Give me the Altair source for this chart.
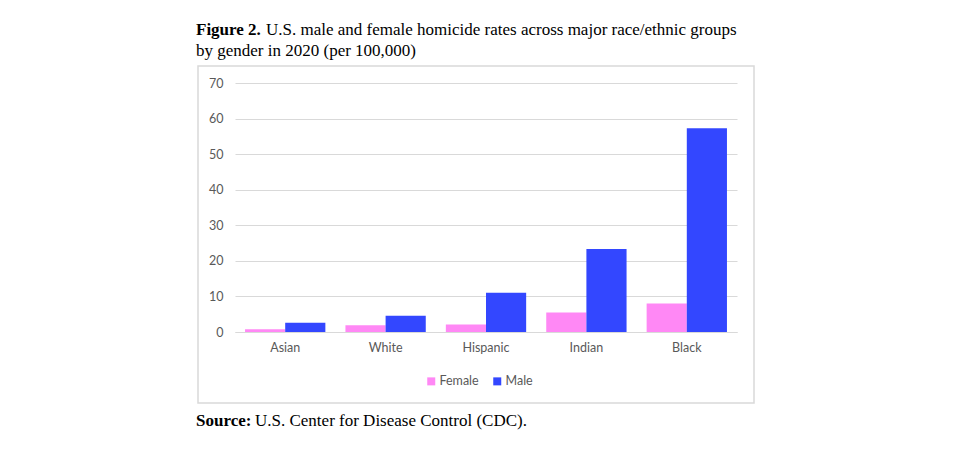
import altair as alt
import pandas as pd

groups = ["Asian", "White", "Hispanic", "Indian", "Black"]
female = [0.8, 1.9, 2.1, 5.5, 8.0]
male = [2.6, 4.6, 11.0, 23.3, 57.3]
genders = ["Female", "Male"]
colors = ["#ff88f5", "#3347ff"]
y_ticks = [0, 10, 20, 30, 40, 50, 60, 70]

rows = []
for g, f, m in zip(groups, female, male):
    rows.append({"group": g, "gender": "Female", "rate": f})
    rows.append({"group": g, "gender": "Male", "rate": m})
df = pd.DataFrame(rows)

W, H = 502, 249
LBL = "#595959"
FONT = "Lato"
SERIF = "Liberation Serif"

bars = alt.Chart(df).mark_bar().encode(
    x=alt.X("group:N", sort=groups, title=None,
            scale=alt.Scale(paddingInner=0.2, paddingOuter=0.1),
            axis=alt.Axis(labelAngle=0, ticks=False, domain=True, domainColor="#d9d9d9",
                          domainWidth=1, labelPadding=9, labelFontSize=12.5,
                          labelColor=LBL, labelFont=FONT, grid=False)),
    xOffset=alt.XOffset("gender:N", sort=genders, scale=alt.Scale(paddingInner=0, paddingOuter=0)),
    y=alt.Y("rate:Q", title=None,
            scale=alt.Scale(domain=[0, 70], nice=False),
            axis=alt.Axis(values=y_ticks, ticks=False, domain=False, labelPadding=12,
                          labelFontSize=12.5, labelColor=LBL, labelFont=FONT,
                          gridColor="#d9d9d9", gridWidth=1)),
    color=alt.Color("gender:N", sort=genders,
                    scale=alt.Scale(domain=genders, range=colors),
                    legend=alt.Legend(title=None, orient="none", legendX=190, legendY=292,
                                      direction="horizontal", symbolType="square",
                                      symbolSize=64, symbolStrokeWidth=0,
                                      labelFontSize=12.5, labelColor=LBL, labelFont=FONT,
                                      labelOffset=2, columnPadding=12, padding=0)),
)

frame_df = pd.DataFrame({"k": [0]})
frame = alt.Chart(frame_df).mark_rect(fill=None, stroke="#d9d9d9", strokeWidth=1.5).encode(
    x=alt.value(-37), x2=alt.value(519), y=alt.value(-17), y2=alt.value(320)
)

def txt(text, x, y, bold=False):
    return alt.Chart(pd.DataFrame({"t": [text]})).mark_text(
        align="left", baseline="middle", font=SERIF, fontSize=17,
        fontWeight="bold" if bold else "normal", color="#000000"
    ).encode(x=alt.value(x), y=alt.value(y), text="t:N")

title1a = txt("Figure 2.", -39, -53, bold=True)
title1b = txt("U.S. male and female homicide rates across major race/ethnic groups", 31, -53)
title2 = txt("by gender in 2020 (per 100,000)", -39, -32)
src_a = txt("Source:", -39, 338, bold=True)
src_b = txt("U.S. Center for Disease Control (CDC).", 20, 338)

chart = alt.layer(frame, bars, title1a, title1b, title2, src_a, src_b).properties(
    width=W, height=H,
    background="white",
    autosize=alt.AutoSizeParams(type="none"),
    padding={"left": 227, "top": 75, "right": 200, "bottom": 100},
).configure_view(strokeWidth=0, stroke="transparent")

chart.save("out.html", embed_options={"renderer": "svg", "actions": False})
